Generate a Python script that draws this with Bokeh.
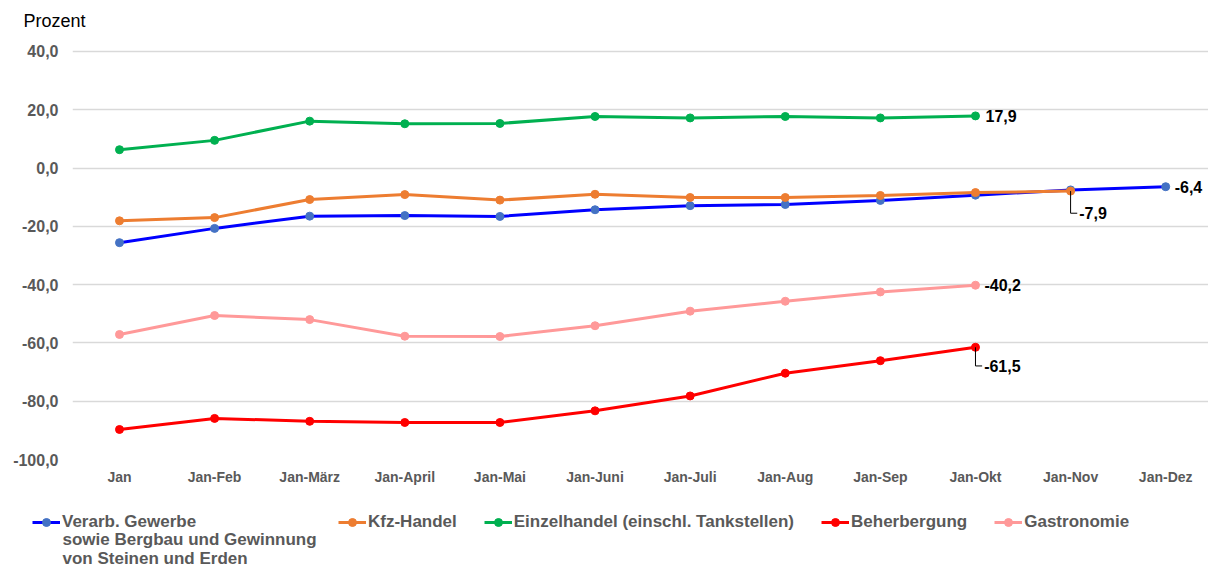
from bokeh.plotting import figure
from bokeh.models import Range1d, FixedTicker, Label, Legend, LegendItem, Title
from bokeh.embed import file_html
from bokeh.resources import INLINE

categories = ["Jan", "Jan-Feb", "Jan-März", "Jan-April", "Jan-Mai", "Jan-Juni",
              "Jan-Juli", "Jan-Aug", "Jan-Sep", "Jan-Okt", "Jan-Nov", "Jan-Dez"]

verarb = [-25.6, -20.7, -16.5, -16.3, -16.6, -14.3, -12.9, -12.5, -11.1, -9.3, -7.5, -6.4]
kfz = [-18.1, -17.0, -10.8, -9.1, -11.0, -9.0, -10.1, -10.1, -9.4, -8.4, -7.9]
einzel = [6.3, 9.5, 16.1, 15.2, 15.3, 17.7, 17.2, 17.7, 17.2, 17.9]
beherb = [-89.7, -85.9, -86.9, -87.3, -87.3, -83.3, -78.2, -70.4, -66.1, -61.5]
gastro = [-57.1, -50.6, -52.0, -57.7, -57.8, -54.1, -49.1, -45.7, -42.5, -40.2]

series_names = ["Verarb. Gewerbe", "Kfz-Handel", "Einzelhandel (einschl. Tankstellen)",
                "Beherbergung", "Gastronomie"]
first_name_cont = ["sowie Bergbau und Gewinnung", "von Steinen und Erden"]
line_colors = ["#0000FF", "#ED7D31", "#00B050", "#FF0000", "#FF9999"]
marker_colors = ["#4472C4", "#ED7D31", "#00B050", "#FF0000", "#FF9999"]

y_ticks = [-100, -80, -60, -40, -20, 0, 20, 40]
y_tick_labels = ["-100,0", "-80,0", "-60,0", "-40,0", "-20,0", "0,0", "20,0", "40,0"]

FONT = "Liberation Sans"
GREY = "#595959"
W = 1208

p = figure(width=W, height=490,
           x_range=Range1d(-0.494, 11.45), y_range=Range1d(-100, 47.2),
           output_backend="svg", toolbar_location=None, title=None,
           min_border_left=72, min_border_right=0, min_border_top=30, min_border_bottom=31)
p.outline_line_color = None

p.add_layout(Title(text="Prozent", align="left", offset=-49, standoff=0,
                   text_font=FONT, text_font_size="18px", text_font_style="normal",
                   text_color="black"), "above")

p.xaxis.ticker = FixedTicker(ticks=list(range(len(categories))))
p.xaxis.major_label_overrides = {i: c for i, c in enumerate(categories)}
p.yaxis.ticker = FixedTicker(ticks=y_ticks)
p.yaxis.major_label_overrides = {t: l for t, l in zip(y_ticks, y_tick_labels)}

for ax in p.axis:
    ax.axis_line_color = None
    ax.major_tick_line_color = None
    ax.minor_tick_line_color = None
    ax.major_tick_out = 0
    ax.major_tick_in = 0
    ax.major_label_text_font = FONT
    ax.major_label_text_font_style = "bold"
    ax.major_label_text_color = GREY
p.xaxis.major_label_text_font_size = "14px"
p.xaxis.major_label_standoff = 9
p.yaxis.major_label_text_font_size = "16px"
p.yaxis.major_label_standoff = 14

p.xgrid.visible = False
p.ygrid.grid_line_color = "#D9D9D9"
p.ygrid.grid_line_width = 1.5

# legend figure (below the chart); its y range lies above all data so the
# series drawn there only serve as legend glyphs
LH = 77
LY0 = 200
lf = figure(width=W, height=LH, x_range=Range1d(0, W), y_range=Range1d(LY0, LY0 + LH),
            output_backend="svg", toolbar_location=None, title=None,
            x_axis_location=None, y_axis_location=None,
            min_border_left=0, min_border_right=0, min_border_top=0, min_border_bottom=0)
lf.outline_line_color = None
lf.xgrid.visible = False
lf.ygrid.visible = False

items = []
for name, vals, lc, mc in zip(series_names, [verarb, kfz, einzel, beherb, gastro], line_colors, marker_colors):
    xs = list(range(len(vals)))
    p.line(xs, vals, line_color=lc, line_width=3)
    p.scatter(xs, vals, size=8, fill_color=mc, line_color=mc)
    lr = lf.line(xs, vals, line_color=lc, line_width=3)
    sr = lf.scatter(xs, vals, size=8, fill_color=mc, line_color=mc)
    items.append(LegendItem(label=name, renderers=[lr, sr]))

leg_kw = dict(orientation="horizontal", margin=0, padding=0, spacing=27,
              glyph_width=28, glyph_height=20, label_standoff=2,
              label_text_font=FONT, label_text_font_size="17px",
              label_text_font_style="bold", label_text_color=GREY,
              border_line_color=None, background_fill_alpha=0)
lf.add_layout(Legend(items=items[:1], location=(32, LH - 42), **leg_kw), "center")
lf.add_layout(Legend(items=items[1:], location=(338, LH - 42), **leg_kw), "center")
for i, t in enumerate(first_name_cont):
    lf.add_layout(Label(x=62, y=LY0 + LH - 49 - 19 * i, text=t, text_baseline="middle",
                        text_font=FONT, text_font_size="17px", text_font_style="bold",
                        text_color=GREY))


def fmt(v):
    return ("%.1f" % v).replace(".", ",")


def add_label(x, y, text, x_off=10):
    p.add_layout(Label(x=x, y=y, text=text, x_offset=x_off, text_baseline="middle",
                       text_font=FONT, text_font_size="16px", text_font_style="bold",
                       text_color="black"))


add_label(len(einzel) - 1, einzel[-1], fmt(einzel[-1]))
add_label(len(verarb) - 1, verarb[-1], fmt(verarb[-1]), 9)
add_label(len(gastro) - 1, gastro[-1], fmt(gastro[-1]), 9)

# leader-line labels
for vals, drop in [(kfz, 7.6), (beherb, 6.4)]:
    xi = len(vals) - 1
    yv = vals[-1]
    p.line([xi, xi, xi + 0.07], [yv, yv - drop, yv - drop], line_color="black", line_width=1)
    add_label(xi + 0.07, yv - drop, fmt(yv), 2)

open("out.html", "w").write(file_html([p, lf], INLINE))
